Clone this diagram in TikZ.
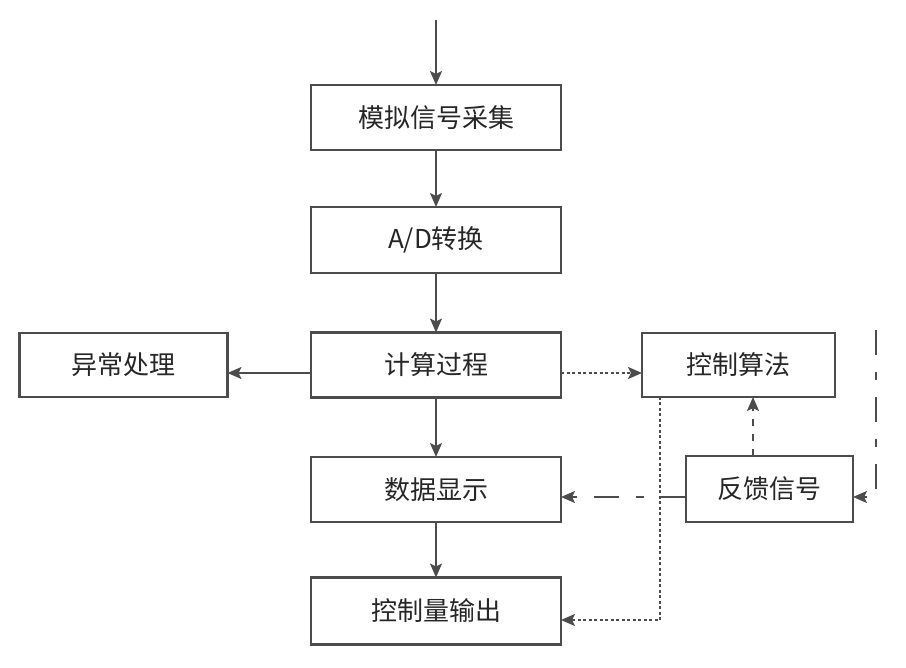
\documentclass[tikz,border=0pt]{standalone}
\usepackage{fontspec}
\newfontfamily\cjk{Noto Sans CJK SC}
\usetikzlibrary{arrows.meta}
\definecolor{ln}{gray}{0.3}
\tikzset{
  box/.style={draw=ln, line width=2.2pt, rectangle, inner sep=0pt, outer sep=0pt, font=\cjk\fontsize{26}{30}\selectfont, text=black!85},
  conn/.style={draw=ln, line width=2.2pt, -{Stealth[length=14pt,width=12pt,inset=3pt]}},
  dotline/.style={conn, dash pattern=on 3pt off 2.5pt},
  dashdot/.style={conn, dash pattern=on 25pt off 17pt on 8pt off 17pt},
  shortdash/.style={conn, dash pattern=on 7pt off 8pt},
}
\begin{document}
\begin{tikzpicture}[x=1pt,y=-1pt]
\useasboundingbox (0,0) rectangle (906,668);
\node[box, minimum width=250pt, minimum height=65pt] (n1) at (436,117.5) {模拟信号采集};
\node[box, minimum width=250pt, minimum height=66pt] (n2) at (436,240) {A/D转换};
\node[box, minimum width=250pt, minimum height=65pt] (n3) at (436,365) {计算过程};
\node[box, minimum width=250pt, minimum height=65pt] (n4) at (436,489.5) {数据显示};
\node[box, minimum width=250pt, minimum height=67pt] (n5) at (436,611) {控制量输出};
\node[box, minimum width=208pt, minimum height=64pt] (ex) at (123.5,365) {异常处理};
\node[box, minimum width=193pt, minimum height=64pt] (ctl) at (738.5,365) {控制算法};
\node[box, minimum width=167pt, minimum height=66pt] (fb) at (769.5,489) {反馈信号};
\coordinate (top) at (436,20);
\coordinate (rtop) at (876,330);
\coordinate (rbot) at (876,497);
\coordinate (corner) at (660,620);
\draw[conn] (top) -- (n1.north);
\draw[conn] (n1) -- (n2);
\draw[conn] (n2) -- (n3);
\draw[conn] (n3) -- (n4);
\draw[conn] (n4) -- (n5);
\draw[conn] ([yshift=-8pt]n3.west) -- ([yshift=-8pt]ex.east);
\draw[dotline] ([yshift=-8pt]n3.east) -- ([yshift=-8pt]ctl.west);
\draw[dotline] (ctl.south -| corner) -- (corner) -- (corner -| n5.east);
\draw[shortdash] (fb.north -| 753,0) -- (ctl.south -| 753,0);
\draw[dashdot] (fb.west |- rbot) -- (n4.east |- rbot);
\draw[dashdot] (rtop) -- (rbot) -- (fb.east |- rbot);
\end{tikzpicture}
\end{document}
